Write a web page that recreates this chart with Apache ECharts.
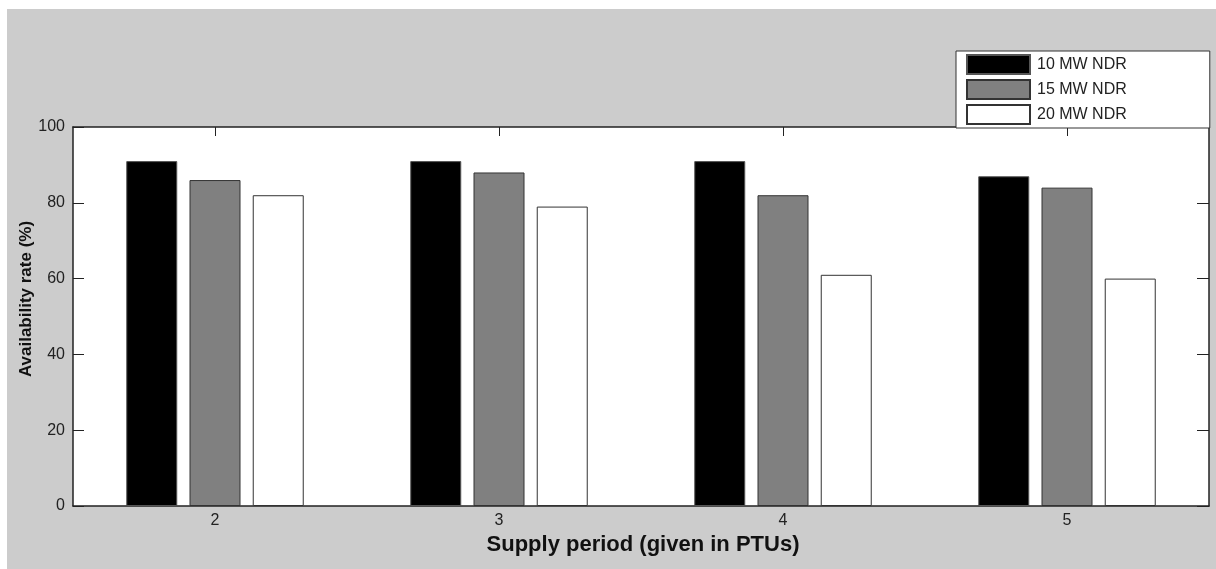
<!DOCTYPE html>
<html>
<head>
<meta charset="utf-8">
<script src="https://cdn.jsdelivr.net/npm/echarts@6/dist/echarts.min.js"></script>
<style>
  html, body { margin: 0; padding: 0; background: #fff; }
  #main { width: 1216px; height: 569px; }
</style>
</head>
<body>
<div id="main"></div>
<script>
const categories = ['2', '3', '4', '5']
const ndr10 = [91, 91, 91, 87]
const ndr15 = [86, 88, 82, 84]
const ndr20 = [82, 79, 61, 60]
const yTicks = [0, 20, 40, 60, 80, 100]

const font = 'Liberation Sans, Arial, Helvetica, sans-serif'
const main = document.querySelector('#main')
const myChart = echarts.init(main)

const barStyle = (fill, border) => ({
    type: 'bar',
    barWidth: 51,
    barGap: '24%',
    itemStyle: { color: fill, borderColor: border, borderWidth: 1 }
})

myChart.setOption({
    animation: false,
    backgroundColor: '#fff',
    textStyle: { fontFamily: font },
    graphic: [{
        type: 'rect',
        z: -10,
        silent: true,
        shape: { x: 7, y: 9, width: 1209, height: 560 },
        style: { fill: '#cccccc' }
    }, {
        type: 'text',
        x: 26,
        y: 299,
        rotation: Math.PI / 2,
        style: {
            text: 'Availability rate (%)',
            fill: '#111',
            font: 'bold 17px ' + font,
            align: 'center',
            verticalAlign: 'middle'
        }
    }, {
        type: 'text',
        x: 643,
        y: 545,
        style: {
            text: 'Supply period (given in PTUs)',
            fill: '#111',
            font: 'bold 22px ' + font,
            align: 'center',
            verticalAlign: 'middle'
        }
    }],
    legend: {
        orient: 'vertical',
        left: 956,
        top: 51,
        z: 10,
        icon: 'rect',
        itemWidth: 63,
        itemHeight: 19,
        itemGap: 4,
        padding: [3, 83, 3, 10],
        backgroundColor: '#fff',
        borderColor: '#333',
        borderWidth: 1,
        textStyle: { fontSize: 16, lineHeight: 19, color: '#222', fontFamily: font, padding: [0, 0, 0, 2] },
        data: ['10 MW NDR', '15 MW NDR', '20 MW NDR']
    },
    grid: {
        left: 73,
        right: 7,
        top: 127,
        bottom: 63,
        show: true,
        backgroundColor: '#fff',
        borderWidth: 0
    },
    xAxis: [{
        type: 'category',
        data: categories,
        position: 'bottom',
        axisLine: { onZero: false, lineStyle: { color: '#222', width: 1.5 } },
        axisTick: { inside: true, alignWithLabel: true, length: 9, lineStyle: { color: '#222' } },
        axisLabel: { fontSize: 16, color: '#222', margin: 7, fontFamily: font }
    }, {
        type: 'category',
        data: categories,
        position: 'top',
        axisLine: { onZero: false, lineStyle: { color: '#222', width: 1.5 } },
        axisTick: { show: true, inside: true, alignWithLabel: true, length: 9, lineStyle: { color: '#222' } },
        axisLabel: { show: true, color: 'rgba(0,0,0,0)' }
    }],
    yAxis: [{
        type: 'value',
        min: 0,
        max: 100,
        interval: 20,
        position: 'left',
        splitLine: { show: false },
        axisLine: { show: true, lineStyle: { color: '#222', width: 1.5 } },
        axisTick: { show: true, inside: true, length: 11, lineStyle: { color: '#222' } },
        axisLabel: {
            fontSize: 16, color: '#222', margin: 8, fontFamily: font,
            formatter: (v) => yTicks.includes(v) ? String(v) : ''
        }
    }, {
        type: 'value',
        min: 0,
        max: 100,
        interval: 20,
        position: 'right',
        splitLine: { show: false },
        axisLine: { show: true, lineStyle: { color: '#222', width: 1.5 } },
        axisTick: { show: true, inside: true, length: 12, lineStyle: { color: '#222' } },
        axisLabel: { show: false }
    }],
    series: [
        { ...barStyle('#000000', '#555'), name: '10 MW NDR', data: ndr10 },
        { ...barStyle('#808080', '#333'), name: '15 MW NDR', data: ndr15 },
        { ...barStyle('#ffffff', '#333'), name: '20 MW NDR', data: ndr20 }
    ]
})
</script>
</body>
</html>
